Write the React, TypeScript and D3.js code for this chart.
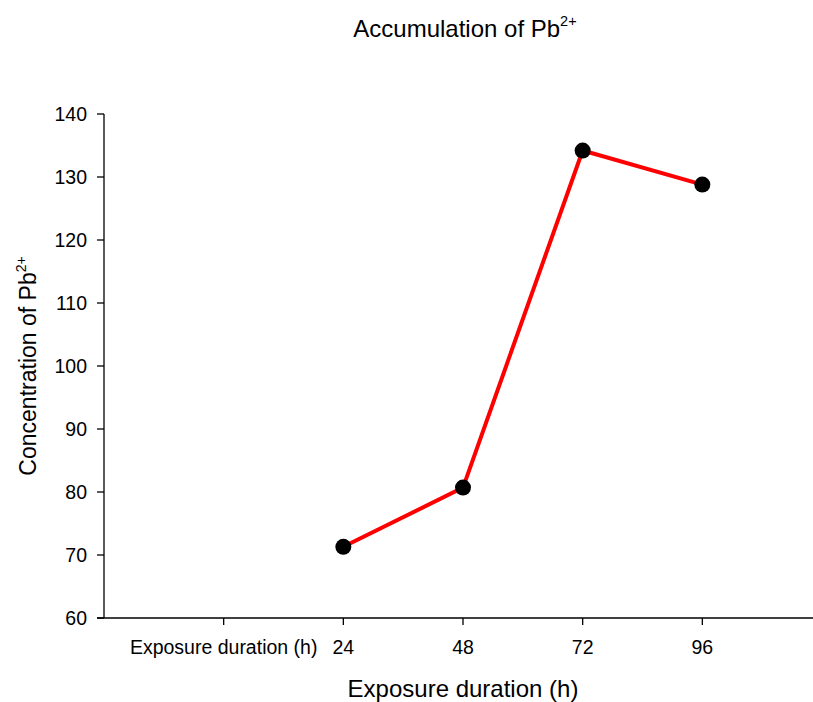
import React from "react";
import * as d3 from "d3";

const xLabels: string[] = ["Exposure duration (h)", "24", "48", "72", "96"];
const hours: string[] = ["24", "48", "72", "96"];
const concentration: number[] = [71.3, 80.7, 134.2, 128.8];
const yTicks: number[] = [60, 70, 80, 90, 100, 110, 120, 130, 140];

const W = 813;
const H = 702;
const FONT = "'Liberation Sans', Arial, Helvetica, sans-serif";

export default function App() {
  // slots: 0 = axis origin, 1..5 = category ticks, 6 = right end
  const x = d3.scaleLinear().domain([0, 6]).range([104, 822]);
  const y = d3.scaleLinear().domain([60, 140]).range([618, 114]);
  const slot = (label: string) => xLabels.indexOf(label) + 1;

  const line = d3
    .line<number>()
    .x((_, i) => x(slot(hours[i])))
    .y((d) => y(d));

  const x0 = x(0);
  const y0 = y(60);

  return (
    <svg
      width={W}
      height={H}
      style={{ position: "absolute", left: 0, top: 0, background: "#fff" }}
      fontFamily={FONT}
    >
      <rect width={W} height={H} fill="#fff" />
      {/* title */}
      <text x={465} y={37} textAnchor="middle" fontSize={24} fill="#000">
        Accumulation of Pb
        <tspan fontSize={14.5} dy={-11}>2+</tspan>
      </text>

      {/* y axis */}
      <line x1={x0} x2={x0} y1={y(140)} y2={y0} stroke="#000" strokeWidth={1.3} />
      {yTicks.map((t) => (
        <g key={t}>
          <line x1={x0 - 7} x2={x0} y1={y(t)} y2={y(t)} stroke="#000" strokeWidth={1.3} />
          <text x={x0 - 17} y={y(t)} dy="0.36em" textAnchor="end" fontSize={19.5} fill="#000">
            {t}
          </text>
        </g>
      ))}

      {/* x axis */}
      <line x1={x0 - 7} x2={x(6)} y1={y0} y2={y0} stroke="#000" strokeWidth={1.3} />
      {xLabels.map((lab, i) => {
        const px = x(i + 1);
        return (
          <g key={lab}>
            <line x1={px} x2={px} y1={y0} y2={y0 + 7} stroke="#000" strokeWidth={1.3} />
            <text x={px} y={y0 + 36} textAnchor="middle" fontSize={19.5} fill="#000">
              {lab}
            </text>
          </g>
        );
      })}

      {/* axis titles */}
      <text x={463} y={697} textAnchor="middle" fontSize={24} fill="#000">
        Exposure duration (h)
      </text>
      <text
        transform={`translate(36, 366) rotate(-90)`}
        textAnchor="middle"
        fontSize={23}
        fill="#000"
      >
        Concentration of Pb
        <tspan fontSize={14} dy={-10.5}>2+</tspan>
      </text>

      {/* data */}
      <path d={line(concentration) || ""} fill="none" stroke="#ff0000" strokeWidth={4} />
      {concentration.map((v, i) => (
        <circle key={i} cx={x(slot(hours[i]))} cy={y(v)} r={8} fill="#000" />
      ))}
    </svg>
  );
}
